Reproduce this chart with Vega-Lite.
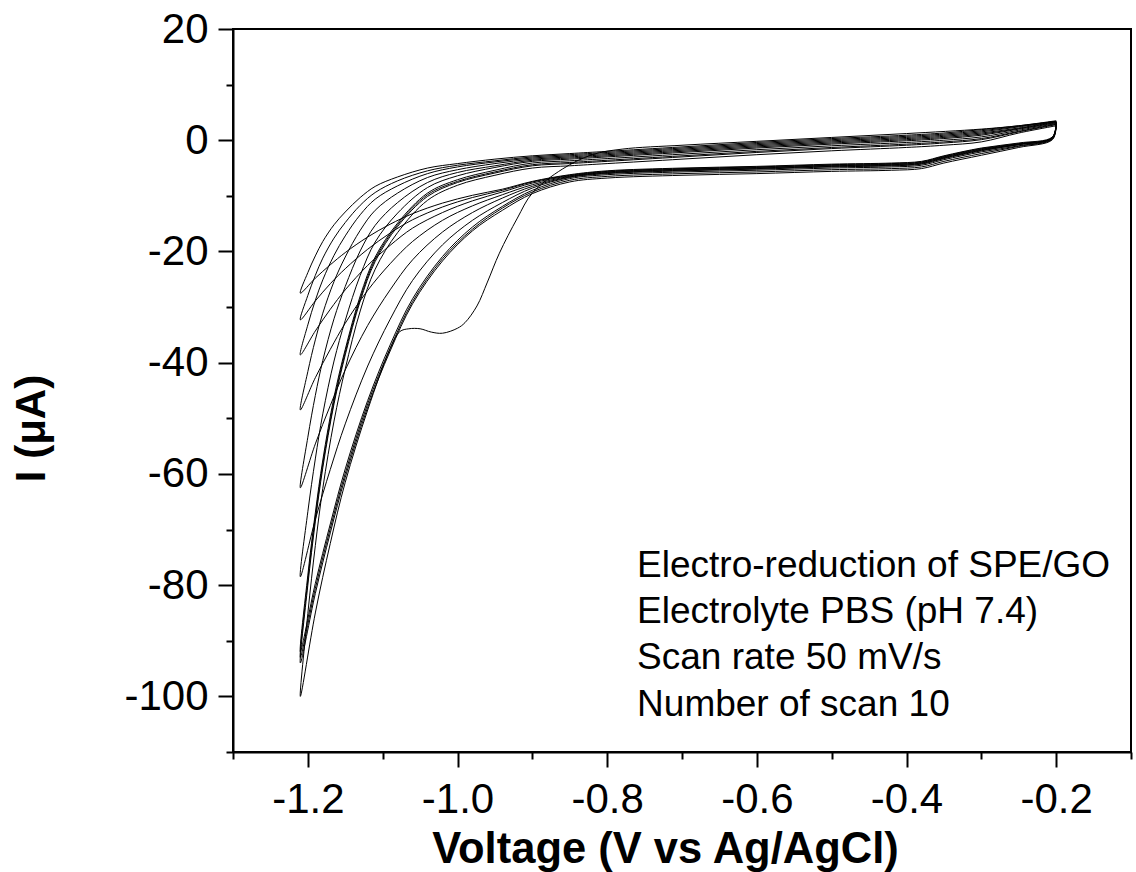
{
  "$schema": "https://vega.github.io/schema/vega-lite/v6.json",
  "autosize": "none",
  "width": 898,
  "height": 723,
  "padding": {"left": 233, "top": 29, "right": 5, "bottom": 120},
  "background": "white",
  "config": {"view": {"stroke": "black", "strokeWidth": 2}, "font": "Liberation Sans, Arial, sans-serif"},
  "layer": [
    {
      "data": {"values": [
{"s":1,"E":-0.2,"I":3.4},{"s":1,"E":-0.25,"I":2.6},{"s":1,"E":-0.3,"I":2.0},{"s":1,"E":-0.4,"I":1.2},{"s":1,"E":-0.5,"I":0.5},{"s":1,"E":-0.6,"I":-0.2},{"s":1,"E":-0.7,"I":-0.9},{"s":1,"E":-0.78,"I":-1.6},{"s":1,"E":-0.82,"I":-2.6},{"s":1,"E":-0.86,"I":-5.2},{"s":1,"E":-0.9,"I":-9.5},{"s":1,"E":-0.92,"I":-14},{"s":1,"E":-0.944,"I":-20.3},{"s":1,"E":-0.96,"I":-25.5},{"s":1,"E":-0.974,"I":-29.8},{"s":1,"E":-0.99,"I":-32.8},{"s":1,"E":-1.0,"I":-33.8},{"s":1,"E":-1.02,"I":-34.7},{"s":1,"E":-1.035,"I":-34.5},{"s":1,"E":-1.05,"I":-33.9},{"s":1,"E":-1.065,"I":-33.9},{"s":1,"E":-1.077,"I":-34.4},{"s":1,"E":-1.09,"I":-37.5},{"s":1,"E":-1.12,"I":-48.5},{"s":1,"E":-1.15,"I":-61.5},{"s":1,"E":-1.17,"I":-72.5},{"s":1,"E":-1.19,"I":-85},{"s":1,"E":-1.21,"I":-100},
{"s":1,"E":-1.2,"I":-85.1},{"s":1,"E":-1.19,"I":-72.9},{"s":1,"E":-1.18,"I":-62.6},{"s":1,"E":-1.165,"I":-50.5},{"s":1,"E":-1.15,"I":-41.1},{"s":1,"E":-1.13,"I":-30.7},{"s":1,"E":-1.11,"I":-23.2},{"s":1,"E":-1.08,"I":-16.6},{"s":1,"E":-1.04,"I":-10.8},{"s":1,"E":-1.0,"I":-8.1},{"s":1,"E":-0.95,"I":-6.3},{"s":1,"E":-0.9,"I":-5.0},{"s":1,"E":-0.85,"I":-4.6},{"s":1,"E":-0.8,"I":-4.2},{"s":1,"E":-0.7,"I":-3.4},{"s":1,"E":-0.6,"I":-2.6},{"s":1,"E":-0.5,"I":-1.9},{"s":1,"E":-0.4,"I":-1.3},{"s":1,"E":-0.35,"I":-0.9},{"s":1,"E":-0.3,"I":-0.3},{"s":1,"E":-0.25,"I":1.3},{"s":1,"E":-0.2,"I":2.6},
{"s":2,"E":-0.2,"I":2.6},{"s":2,"E":-0.205,"I":0.1},{"s":2,"E":-0.25,"I":-1.3},{"s":2,"E":-0.3,"I":-2.7},{"s":2,"E":-0.35,"I":-4.1},{"s":2,"E":-0.38,"I":-5.1},{"s":2,"E":-0.42,"I":-5.4},{"s":2,"E":-0.5,"I":-5.6},{"s":2,"E":-0.6,"I":-6.0},{"s":2,"E":-0.7,"I":-6.3},{"s":2,"E":-0.8,"I":-6.8},{"s":2,"E":-0.85,"I":-7.5},{"s":2,"E":-0.9,"I":-9.6},{"s":2,"E":-0.94,"I":-12.6},{"s":2,"E":-0.98,"I":-16.3},{"s":2,"E":-1.02,"I":-21.7},{"s":2,"E":-1.06,"I":-29.4},{"s":2,"E":-1.09,"I":-37.9},{"s":2,"E":-1.12,"I":-48.0},{"s":2,"E":-1.15,"I":-60.6},{"s":2,"E":-1.17,"I":-70.6},{"s":2,"E":-1.19,"I":-81.5},{"s":2,"E":-1.21,"I":-94},
{"s":2,"E":-1.2,"I":-80.0},{"s":2,"E":-1.19,"I":-68.6},{"s":2,"E":-1.18,"I":-58.9},{"s":2,"E":-1.165,"I":-47.4},{"s":2,"E":-1.15,"I":-38.6},{"s":2,"E":-1.13,"I":-28.9},{"s":2,"E":-1.11,"I":-21.8},{"s":2,"E":-1.08,"I":-15.5},{"s":2,"E":-1.04,"I":-10.1},{"s":2,"E":-1.0,"I":-7.6},{"s":2,"E":-0.95,"I":-5.9},{"s":2,"E":-0.9,"I":-4.6},{"s":2,"E":-0.85,"I":-4.2},{"s":2,"E":-0.8,"I":-3.8},{"s":2,"E":-0.7,"I":-3.0},{"s":2,"E":-0.6,"I":-2.2},{"s":2,"E":-0.5,"I":-1.5},{"s":2,"E":-0.4,"I":-0.9},{"s":2,"E":-0.35,"I":-0.5},{"s":2,"E":-0.3,"I":0.1},{"s":2,"E":-0.25,"I":1.5},{"s":2,"E":-0.2,"I":2.8},
{"s":3,"E":-0.2,"I":2.8},{"s":3,"E":-0.205,"I":0.2},{"s":3,"E":-0.25,"I":-1.1},{"s":3,"E":-0.3,"I":-2.4},{"s":3,"E":-0.35,"I":-3.8},{"s":3,"E":-0.38,"I":-4.8},{"s":3,"E":-0.42,"I":-5.1},{"s":3,"E":-0.5,"I":-5.3},{"s":3,"E":-0.6,"I":-5.7},{"s":3,"E":-0.7,"I":-6.0},{"s":3,"E":-0.8,"I":-6.5},{"s":3,"E":-0.85,"I":-7.2},{"s":3,"E":-0.9,"I":-9.3},{"s":3,"E":-0.94,"I":-12.2},{"s":3,"E":-0.98,"I":-16.0},{"s":3,"E":-1.02,"I":-21.3},{"s":3,"E":-1.06,"I":-29.0},{"s":3,"E":-1.09,"I":-37.4},{"s":3,"E":-1.12,"I":-47.4},{"s":3,"E":-1.15,"I":-59.9},{"s":3,"E":-1.17,"I":-69.8},{"s":3,"E":-1.19,"I":-80.6},{"s":3,"E":-1.21,"I":-93},
{"s":3,"E":-1.2,"I":-79.1},{"s":3,"E":-1.19,"I":-67.8},{"s":3,"E":-1.18,"I":-58.2},{"s":3,"E":-1.165,"I":-46.9},{"s":3,"E":-1.15,"I":-38.1},{"s":3,"E":-1.13,"I":-28.5},{"s":3,"E":-1.11,"I":-21.4},{"s":3,"E":-1.08,"I":-15.2},{"s":3,"E":-1.04,"I":-9.8},{"s":3,"E":-1.0,"I":-7.4},{"s":3,"E":-0.95,"I":-5.7},{"s":3,"E":-0.9,"I":-4.4},{"s":3,"E":-0.85,"I":-4.0},{"s":3,"E":-0.8,"I":-3.6},{"s":3,"E":-0.7,"I":-2.8},{"s":3,"E":-0.6,"I":-2.0},{"s":3,"E":-0.5,"I":-1.3},{"s":3,"E":-0.4,"I":-0.7},{"s":3,"E":-0.35,"I":-0.3},{"s":3,"E":-0.3,"I":0.3},{"s":3,"E":-0.25,"I":1.6},{"s":3,"E":-0.2,"I":2.9},
{"s":4,"E":-0.2,"I":2.9},{"s":4,"E":-0.205,"I":0.3},{"s":4,"E":-0.25,"I":-1.0},{"s":4,"E":-0.3,"I":-2.1},{"s":4,"E":-0.35,"I":-3.5},{"s":4,"E":-0.38,"I":-4.5},{"s":4,"E":-0.42,"I":-4.8},{"s":4,"E":-0.5,"I":-5.0},{"s":4,"E":-0.6,"I":-5.4},{"s":4,"E":-0.7,"I":-5.7},{"s":4,"E":-0.8,"I":-6.2},{"s":4,"E":-0.85,"I":-6.9},{"s":4,"E":-0.9,"I":-9.0},{"s":4,"E":-0.94,"I":-11.9},{"s":4,"E":-0.98,"I":-15.6},{"s":4,"E":-1.02,"I":-20.9},{"s":4,"E":-1.06,"I":-28.5},{"s":4,"E":-1.09,"I":-36.8},{"s":4,"E":-1.12,"I":-46.8},{"s":4,"E":-1.15,"I":-59.1},{"s":4,"E":-1.17,"I":-69.0},{"s":4,"E":-1.19,"I":-79.7},{"s":4,"E":-1.21,"I":-92},
{"s":4,"E":-1.2,"I":-78.2},{"s":4,"E":-1.19,"I":-67.0},{"s":4,"E":-1.18,"I":-57.5},{"s":4,"E":-1.165,"I":-46.2},{"s":4,"E":-1.15,"I":-37.6},{"s":4,"E":-1.13,"I":-28.0},{"s":4,"E":-1.11,"I":-21.0},{"s":4,"E":-1.08,"I":-14.9},{"s":4,"E":-1.04,"I":-9.5},{"s":4,"E":-1.0,"I":-7.1},{"s":4,"E":-0.95,"I":-5.4},{"s":4,"E":-0.9,"I":-4.1},{"s":4,"E":-0.85,"I":-3.7},{"s":4,"E":-0.8,"I":-3.3},{"s":4,"E":-0.7,"I":-2.5},{"s":4,"E":-0.6,"I":-1.7},{"s":4,"E":-0.5,"I":-1.0},{"s":4,"E":-0.4,"I":-0.4},{"s":4,"E":-0.35,"I":0.0},{"s":4,"E":-0.3,"I":0.6},{"s":4,"E":-0.25,"I":1.8},{"s":4,"E":-0.2,"I":3.0},
{"s":5,"E":-0.2,"I":3.0},{"s":5,"E":-0.205,"I":0.4},{"s":5,"E":-0.25,"I":-0.8},{"s":5,"E":-0.3,"I":-1.9},{"s":5,"E":-0.35,"I":-3.3},{"s":5,"E":-0.38,"I":-4.3},{"s":5,"E":-0.42,"I":-4.6},{"s":5,"E":-0.5,"I":-4.8},{"s":5,"E":-0.6,"I":-5.2},{"s":5,"E":-0.7,"I":-5.5},{"s":5,"E":-0.8,"I":-6.0},{"s":5,"E":-0.85,"I":-6.7},{"s":5,"E":-0.9,"I":-8.6},{"s":5,"E":-0.94,"I":-11.2},{"s":5,"E":-0.98,"I":-14.4},{"s":5,"E":-1.02,"I":-18.8},{"s":5,"E":-1.06,"I":-25.2},{"s":5,"E":-1.09,"I":-32.2},{"s":5,"E":-1.12,"I":-40.6},{"s":5,"E":-1.15,"I":-51.0},{"s":5,"E":-1.17,"I":-59.2},{"s":5,"E":-1.19,"I":-68.2},{"s":5,"E":-1.21,"I":-78.5},
{"s":5,"E":-1.2,"I":-66.8},{"s":5,"E":-1.19,"I":-57.3},{"s":5,"E":-1.18,"I":-49.2},{"s":5,"E":-1.165,"I":-39.7},{"s":5,"E":-1.15,"I":-32.4},{"s":5,"E":-1.13,"I":-24.3},{"s":5,"E":-1.11,"I":-18.3},{"s":5,"E":-1.08,"I":-13.1},{"s":5,"E":-1.04,"I":-8.5},{"s":5,"E":-1.0,"I":-6.4},{"s":5,"E":-0.95,"I":-4.9},{"s":5,"E":-0.9,"I":-3.8},{"s":5,"E":-0.85,"I":-3.4},{"s":5,"E":-0.8,"I":-3.0},{"s":5,"E":-0.7,"I":-2.2},{"s":5,"E":-0.6,"I":-1.4},{"s":5,"E":-0.5,"I":-0.7},{"s":5,"E":-0.4,"I":-0.1},{"s":5,"E":-0.35,"I":0.3},{"s":5,"E":-0.3,"I":0.9},{"s":5,"E":-0.25,"I":2.0},{"s":5,"E":-0.2,"I":3.1},
{"s":6,"E":-0.2,"I":3.1},{"s":6,"E":-0.205,"I":0.4},{"s":6,"E":-0.25,"I":-0.8},{"s":6,"E":-0.3,"I":-1.8},{"s":6,"E":-0.35,"I":-3.2},{"s":6,"E":-0.38,"I":-4.2},{"s":6,"E":-0.42,"I":-4.5},{"s":6,"E":-0.5,"I":-4.7},{"s":6,"E":-0.6,"I":-5.1},{"s":6,"E":-0.7,"I":-5.4},{"s":6,"E":-0.8,"I":-5.9},{"s":6,"E":-0.85,"I":-6.6},{"s":6,"E":-0.9,"I":-8.3},{"s":6,"E":-0.94,"I":-10.4},{"s":6,"E":-0.98,"I":-13.0},{"s":6,"E":-1.02,"I":-16.5},{"s":6,"E":-1.06,"I":-21.5},{"s":6,"E":-1.09,"I":-26.9},{"s":6,"E":-1.12,"I":-33.3},{"s":6,"E":-1.15,"I":-41.3},{"s":6,"E":-1.17,"I":-47.7},{"s":6,"E":-1.19,"I":-54.6},{"s":6,"E":-1.21,"I":-62.5},
{"s":6,"E":-1.2,"I":-53.4},{"s":6,"E":-1.19,"I":-45.9},{"s":6,"E":-1.18,"I":-39.6},{"s":6,"E":-1.165,"I":-32.1},{"s":6,"E":-1.15,"I":-26.3},{"s":6,"E":-1.13,"I":-19.9},{"s":6,"E":-1.11,"I":-15.3},{"s":6,"E":-1.08,"I":-11.2},{"s":6,"E":-1.04,"I":-7.6},{"s":6,"E":-1.0,"I":-5.8},{"s":6,"E":-0.95,"I":-4.6},{"s":6,"E":-0.9,"I":-3.6},{"s":6,"E":-0.85,"I":-3.2},{"s":6,"E":-0.8,"I":-2.8},{"s":6,"E":-0.7,"I":-2.0},{"s":6,"E":-0.6,"I":-1.2},{"s":6,"E":-0.5,"I":-0.5},{"s":6,"E":-0.4,"I":0.1},{"s":6,"E":-0.35,"I":0.5},{"s":6,"E":-0.3,"I":1.1},{"s":6,"E":-0.25,"I":2.1},{"s":6,"E":-0.2,"I":3.2},
{"s":7,"E":-0.2,"I":3.2},{"s":7,"E":-0.205,"I":0.4},{"s":7,"E":-0.25,"I":-0.7},{"s":7,"E":-0.3,"I":-1.7},{"s":7,"E":-0.35,"I":-3.1},{"s":7,"E":-0.38,"I":-4.1},{"s":7,"E":-0.42,"I":-4.4},{"s":7,"E":-0.5,"I":-4.6},{"s":7,"E":-0.6,"I":-5.0},{"s":7,"E":-0.7,"I":-5.3},{"s":7,"E":-0.8,"I":-5.8},{"s":7,"E":-0.85,"I":-6.5},{"s":7,"E":-0.9,"I":-8.0},{"s":7,"E":-0.94,"I":-9.8},{"s":7,"E":-0.98,"I":-11.8},{"s":7,"E":-1.02,"I":-14.4},{"s":7,"E":-1.06,"I":-18.2},{"s":7,"E":-1.09,"I":-22.2},{"s":7,"E":-1.12,"I":-27.0},{"s":7,"E":-1.15,"I":-32.9},{"s":7,"E":-1.17,"I":-37.6},{"s":7,"E":-1.19,"I":-42.7},{"s":7,"E":-1.21,"I":-48.5},
{"s":7,"E":-1.2,"I":-41.6},{"s":7,"E":-1.19,"I":-35.9},{"s":7,"E":-1.18,"I":-31.1},{"s":7,"E":-1.165,"I":-25.4},{"s":7,"E":-1.15,"I":-21.0},{"s":7,"E":-1.13,"I":-16.2},{"s":7,"E":-1.11,"I":-12.6},{"s":7,"E":-1.08,"I":-9.5},{"s":7,"E":-1.04,"I":-6.7},{"s":7,"E":-1.0,"I":-5.3},{"s":7,"E":-0.95,"I":-4.2},{"s":7,"E":-0.9,"I":-3.4},{"s":7,"E":-0.85,"I":-3.0},{"s":7,"E":-0.8,"I":-2.6},{"s":7,"E":-0.7,"I":-1.8},{"s":7,"E":-0.6,"I":-1.0},{"s":7,"E":-0.5,"I":-0.3},{"s":7,"E":-0.4,"I":0.3},{"s":7,"E":-0.35,"I":0.7},{"s":7,"E":-0.3,"I":1.3},{"s":7,"E":-0.25,"I":2.2},{"s":7,"E":-0.2,"I":3.3},
{"s":8,"E":-0.2,"I":3.3},{"s":8,"E":-0.205,"I":0.5},{"s":8,"E":-0.25,"I":-0.7},{"s":8,"E":-0.3,"I":-1.6},{"s":8,"E":-0.35,"I":-3.0},{"s":8,"E":-0.38,"I":-4.0},{"s":8,"E":-0.42,"I":-4.3},{"s":8,"E":-0.5,"I":-4.5},{"s":8,"E":-0.6,"I":-4.9},{"s":8,"E":-0.7,"I":-5.2},{"s":8,"E":-0.8,"I":-5.7},{"s":8,"E":-0.85,"I":-6.4},{"s":8,"E":-0.9,"I":-7.7},{"s":8,"E":-0.94,"I":-9.3},{"s":8,"E":-0.98,"I":-10.9},{"s":8,"E":-1.02,"I":-13.0},{"s":8,"E":-1.06,"I":-15.8},{"s":8,"E":-1.09,"I":-18.9},{"s":8,"E":-1.12,"I":-22.5},{"s":8,"E":-1.15,"I":-26.9},{"s":8,"E":-1.17,"I":-30.4},{"s":8,"E":-1.19,"I":-34.3},{"s":8,"E":-1.21,"I":-38.6},
{"s":8,"E":-1.2,"I":-33.2},{"s":8,"E":-1.19,"I":-28.8},{"s":8,"E":-1.18,"I":-25.1},{"s":8,"E":-1.165,"I":-20.7},{"s":8,"E":-1.15,"I":-17.2},{"s":8,"E":-1.13,"I":-13.4},{"s":8,"E":-1.11,"I":-10.6},{"s":8,"E":-1.08,"I":-8.2},{"s":8,"E":-1.04,"I":-6.0},{"s":8,"E":-1.0,"I":-4.8},{"s":8,"E":-0.95,"I":-3.9},{"s":8,"E":-0.9,"I":-3.2},{"s":8,"E":-0.85,"I":-2.8},{"s":8,"E":-0.8,"I":-2.4},{"s":8,"E":-0.7,"I":-1.6},{"s":8,"E":-0.6,"I":-0.8},{"s":8,"E":-0.5,"I":-0.1},{"s":8,"E":-0.4,"I":0.5},{"s":8,"E":-0.35,"I":0.9},{"s":8,"E":-0.3,"I":1.5},{"s":8,"E":-0.25,"I":2.4},{"s":8,"E":-0.2,"I":3.3},
{"s":9,"E":-0.2,"I":3.3},{"s":9,"E":-0.205,"I":0.5},{"s":9,"E":-0.25,"I":-0.6},{"s":9,"E":-0.3,"I":-1.5},{"s":9,"E":-0.35,"I":-2.9},{"s":9,"E":-0.38,"I":-3.9},{"s":9,"E":-0.42,"I":-4.2},{"s":9,"E":-0.5,"I":-4.4},{"s":9,"E":-0.6,"I":-4.8},{"s":9,"E":-0.7,"I":-5.1},{"s":9,"E":-0.8,"I":-5.6},{"s":9,"E":-0.85,"I":-6.3},{"s":9,"E":-0.9,"I":-7.5},{"s":9,"E":-0.94,"I":-9.0},{"s":9,"E":-0.98,"I":-10.3},{"s":9,"E":-1.02,"I":-12.0},{"s":9,"E":-1.06,"I":-14.3},{"s":9,"E":-1.09,"I":-16.7},{"s":9,"E":-1.12,"I":-19.6},{"s":9,"E":-1.15,"I":-23.1},{"s":9,"E":-1.17,"I":-25.8},{"s":9,"E":-1.19,"I":-28.9},{"s":9,"E":-1.21,"I":-32.3},
{"s":9,"E":-1.2,"I":-27.9},{"s":9,"E":-1.19,"I":-24.3},{"s":9,"E":-1.18,"I":-21.2},{"s":9,"E":-1.165,"I":-17.6},{"s":9,"E":-1.15,"I":-14.8},{"s":9,"E":-1.13,"I":-11.7},{"s":9,"E":-1.11,"I":-9.4},{"s":9,"E":-1.08,"I":-7.3},{"s":9,"E":-1.04,"I":-5.5},{"s":9,"E":-1.0,"I":-4.5},{"s":9,"E":-0.95,"I":-3.7},{"s":9,"E":-0.9,"I":-3.0},{"s":9,"E":-0.85,"I":-2.6},{"s":9,"E":-0.8,"I":-2.2},{"s":9,"E":-0.7,"I":-1.4},{"s":9,"E":-0.6,"I":-0.6},{"s":9,"E":-0.5,"I":0.1},{"s":9,"E":-0.4,"I":0.7},{"s":9,"E":-0.35,"I":1.1},{"s":9,"E":-0.3,"I":1.7},{"s":9,"E":-0.25,"I":2.5},{"s":9,"E":-0.2,"I":3.4},
{"s":10,"E":-0.2,"I":3.4},{"s":10,"E":-0.205,"I":0.6},{"s":10,"E":-0.25,"I":-0.5},{"s":10,"E":-0.3,"I":-1.4},{"s":10,"E":-0.35,"I":-2.8},{"s":10,"E":-0.38,"I":-3.8},{"s":10,"E":-0.42,"I":-4.1},{"s":10,"E":-0.5,"I":-4.3},{"s":10,"E":-0.6,"I":-4.7},{"s":10,"E":-0.7,"I":-5.0},{"s":10,"E":-0.8,"I":-5.5},{"s":10,"E":-0.85,"I":-6.2},{"s":10,"E":-0.9,"I":-7.4},{"s":10,"E":-0.94,"I":-8.8},{"s":10,"E":-0.98,"I":-9.9},{"s":10,"E":-1.02,"I":-11.3},{"s":10,"E":-1.06,"I":-13.2},{"s":10,"E":-1.09,"I":-15.1},{"s":10,"E":-1.12,"I":-17.4},{"s":10,"E":-1.15,"I":-20.2},{"s":10,"E":-1.17,"I":-22.4},{"s":10,"E":-1.19,"I":-24.8},{"s":10,"E":-1.21,"I":-27.5},
{"s":10,"E":-1.2,"I":-23.8},{"s":10,"E":-1.19,"I":-20.8},{"s":10,"E":-1.18,"I":-18.2},{"s":10,"E":-1.165,"I":-15.2},{"s":10,"E":-1.15,"I":-12.9},{"s":10,"E":-1.13,"I":-10.3},{"s":10,"E":-1.11,"I":-8.3},{"s":10,"E":-1.08,"I":-6.6},{"s":10,"E":-1.04,"I":-5.0},{"s":10,"E":-1.0,"I":-4.2},{"s":10,"E":-0.95,"I":-3.4},{"s":10,"E":-0.9,"I":-2.8},{"s":10,"E":-0.85,"I":-2.4},{"s":10,"E":-0.8,"I":-2.0},{"s":10,"E":-0.7,"I":-1.2},{"s":10,"E":-0.6,"I":-0.4},{"s":10,"E":-0.5,"I":0.3},{"s":10,"E":-0.4,"I":0.9},{"s":10,"E":-0.35,"I":1.3},{"s":10,"E":-0.3,"I":1.9},{"s":10,"E":-0.25,"I":2.6},{"s":10,"E":-0.2,"I":3.5}
      ]},
      "mark": {"type": "line", "color": "black", "strokeWidth": 1, "interpolate": "catmull-rom"},
      "encoding": {
        "x": {
          "field": "E", "type": "quantitative",
          "scale": {"domain": [-1.3, -0.1], "nice": false, "zero": false},
          "axis": {
            "title": "Voltage (V vs Ag/AgCl)",
            "values": [-1.3, -1.2, -1.1, -1.0, -0.9, -0.8, -0.7, -0.6, -0.5, -0.4, -0.3, -0.2, -0.1],
            "labelExpr": "abs(round(datum.value*10)) % 2 == 0 ? replace(format(datum.value, '.1f'), '\u2212', '-') : ''",
            "tickSize": {"condition": {"test": "abs(round(datum.value*10)) % 2 == 0", "value": 15}, "value": 7},
            "tickWidth": 2, "tickColor": "black",
            "domainColor": "black", "domainWidth": 2,
            "grid": false,
            "labelFontSize": 42, "labelColor": "black", "labelPadding": 12,
            "labelFlush": false, "labelOverlap": false, "labelBound": false,
            "titleFontSize": 43.5, "titleFontWeight": "bold", "titleColor": "black",
            "titleX": 432, "titleY": 110, "titleBaseline": "alphabetic", "titleAlign": "center"
          }
        },
        "y": {
          "field": "I", "type": "quantitative",
          "scale": {"domain": [-110, 20], "nice": false, "zero": false},
          "axis": {
            "title": "I (μA)",
            "values": [20, 10, 0, -10, -20, -30, -40, -50, -60, -70, -80, -90, -100, -110],
            "labelExpr": "datum.value % 20 == 0 ? replace(format(datum.value, 'd'), '\u2212', '-') : ''",
            "tickSize": {"condition": {"test": "datum.value % 20 == 0", "value": 15}, "value": 7},
            "tickWidth": 2, "tickColor": "black",
            "domainColor": "black", "domainWidth": 2,
            "grid": false,
            "labelFontSize": 42, "labelColor": "black", "labelPadding": 10,
            "labelOverlap": false, "labelBound": false, "labelFlush": false,
            "titleFontSize": 42, "titleFontWeight": "bold", "titleColor": "black",
            "titleX": -180, "titleY": 399, "titleAngle": 270, "titleBaseline": "bottom", "titleAlign": "center"
          }
        },
        "detail": {"field": "s", "type": "nominal"},
        "order": {"value": null}
      }
    },
    {
      "data": {"values": [{"note": "conditions"}]},
      "mark": {
        "type": "text",
        "text": ["Electro-reduction of SPE/GO", "Electrolyte PBS (pH 7.4)", "Scan rate 50 mV/s", "Number of scan 10"],
        "align": "left", "baseline": "alphabetic", "fontSize": 37, "lineHeight": 46.3, "color": "black"
      },
      "encoding": {
        "x": {"datum": -0.76, "type": "quantitative"},
        "y": {"datum": -78.5, "type": "quantitative"}
      }
    }
  ]
}
